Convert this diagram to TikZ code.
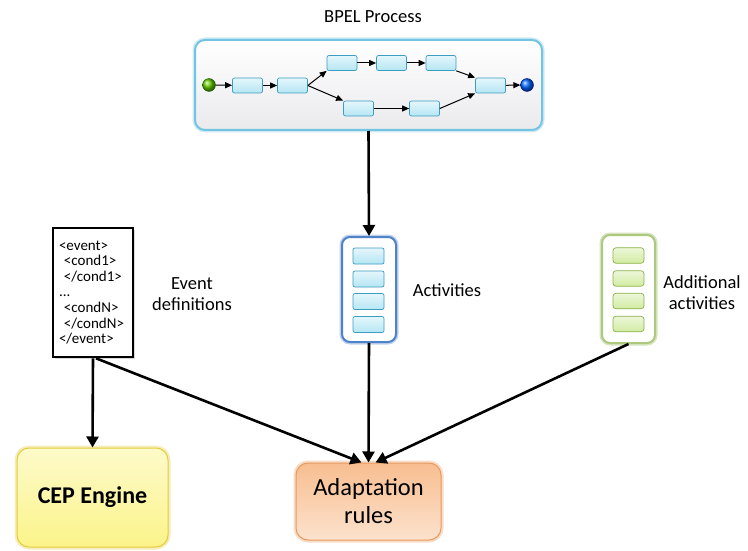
\documentclass[tikz,border=0pt]{standalone}
\usepackage{fontspec}
\setmainfont{Carlito}
\usetikzlibrary{arrows.meta,shadows}

\definecolor{actfill}{HTML}{B4E6F4}
\definecolor{actline}{HTML}{3C9CC4}
\definecolor{addfill}{HTML}{D2EBA2}
\definecolor{addline}{HTML}{8AB24A}
\definecolor{procline}{HTML}{72C4E2}
\definecolor{actsline}{HTML}{4F82C9}
\definecolor{cepfill}{HTML}{FBF48A}
\definecolor{cepline}{HTML}{E4CC3C}
\definecolor{adpfill}{HTML}{F8BE90}
\definecolor{adpline}{HTML}{E89A5E}

\tikzset{
  act/.style={draw=actline,rounded corners=2pt,minimum width=30pt,minimum height=15pt,
    inner sep=0pt,top color=actfill!35,bottom color=actfill,line width=0.7pt},
  addact/.style={draw=addline,rounded corners=3pt,minimum width=31pt,minimum height=15.5pt,
    inner sep=0pt,top color=addfill!40,bottom color=addfill,line width=0.7pt},
  flow/.style={-{Triangle[length=7pt,width=6pt]},line width=1pt},
  link/.style={-{Triangle[length=11pt,width=12pt]},line width=2.6pt},
  glow/.style={preaction={draw=#1!35,line width=5pt}},
  lbl/.style={font=\fontsize{18.5}{21}\selectfont,align=center}
}

\begin{document}
\begin{tikzpicture}[x=1pt,y=-1pt]
  \useasboundingbox (0,0) rectangle (748,551);
  % BPEL process
  \node[lbl] (ptitle) at (373,17) {BPEL Process};
  \node[draw=procline,line width=2pt,glow=procline,rounded corners=10pt,minimum width=347pt,
    minimum height=90pt,top color=white,bottom color=blue!8!gray!15] (proc) at (368.5,85) {};
  \node[circle,inner sep=0pt,minimum size=13pt,ball color=green!50!yellow!80!black,draw=green!40!black,line width=0.3pt] (start) at (209,85) {};
  \node[circle,inner sep=0pt,minimum size=13pt,ball color=blue!60!cyan,draw=blue!50!black,line width=0.3pt] (stop) at (527,85) {};
  \node[act] (b1) at (247.5,85.5) {};
  \node[act] (b2) at (292.5,85.5) {};
  \node[act] (b3) at (342,63) {};
  \node[act] (b4) at (391.5,63) {};
  \node[act] (b5) at (441,63) {};
  \node[act] (b6) at (358.5,108.5) {};
  \node[act] (b7) at (424.5,108.5) {};
  \node[act] (b8) at (490.5,85.5) {};
  \draw[flow] (start) -- (b1);
  \draw[flow] (b1) -- (b2);
  \draw[flow] (b2.east) -- (b3.south west);
  \draw[flow] (b2.east) -- (b6.north west);
  \draw[flow] (b3) -- (b4);
  \draw[flow] (b4) -- (b5);
  \draw[flow] (b6) -- (b7);
  \draw[flow] (b5.south east) -- (b8.north west);
  \draw[flow] (b7.east) -- (b8.south west);
  \draw[flow] (b8) -- (stop);

  % activities
  \node[draw=actsline,line width=2pt,glow=actsline,rounded corners=8pt,minimum width=54pt,
    minimum height=105pt,fill=white] (acts) at (369,289.5) {};
  \foreach \y [count=\i] in {256,279,301.5,324.5}
    \node[act,minimum width=31pt,minimum height=16pt] (a\i) at (368.5,\y) {};
  \node[lbl] (actslbl) at (447,290) {Activities};

  % additional activities
  \node[draw=addline!70,line width=2pt,glow=addline,rounded corners=8pt,minimum width=53pt,
    minimum height=108pt,fill=white] (adds) at (628.5,289) {};
  \foreach \y [count=\i] in {255.5,278.5,301,324}
    \node[addact] (g\i) at (628.5,\y) {};
  \node[lbl] (addslbl) at (702,293) {Additional\\activities};

  % event definitions
  \node[draw,line width=2.6pt,fill=white,drop shadow={opacity=0.3},minimum width=80pt,minimum height=129pt,
    text width=68pt,inner sep=0pt,align=left,font=\fontsize{15}{15.6}\selectfont] (evt) at (93,292.5)
    {<event>\\\ <cond1>\\\ </cond1>\\...\\\ <condN>\\\ </condN>\\</event>};
  \node[lbl] (evtlbl) at (192,294) {Event\\definitions};

  % engines
  \node[draw=cepline,line width=1pt,glow=cepline,rounded corners=12pt,minimum width=151pt,
    minimum height=99pt,top color=cepfill!45,bottom color=cepfill,
    font=\fontsize{24}{28}\selectfont\bfseries] (cep) at (92.5,497.5) {CEP Engine};
  \node[draw=adpline,line width=1pt,glow=adpline,rounded corners=12pt,minimum width=145pt,
    minimum height=77pt,top color=adpfill,bottom color=adpfill!45,align=center,
    font=\fontsize{24.5}{28}\selectfont] (adapt) at (368.5,501.5) {Adaptation\\rules};

  % connectors
  \draw[link] (proc.south) -- (acts.north);
  \draw[link] (evt.south) -- (cep.north);
  \draw[link] ([xshift=3pt]evt.south) -- ([xshift=-7pt]adapt.north);
  \draw[link] (acts.south) -- (adapt.north);
  \draw[link] (adds.south) -- ([xshift=7pt]adapt.north);
\end{tikzpicture}
\end{document}
